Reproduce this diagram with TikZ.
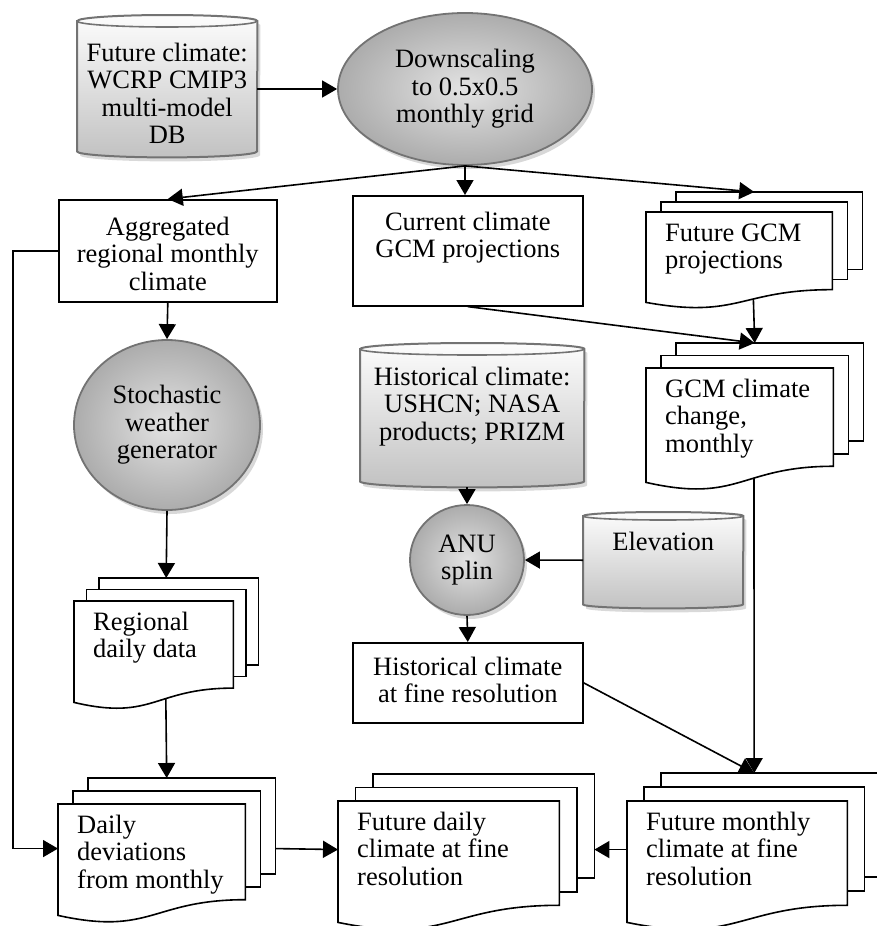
\documentclass[tikz,border=0pt]{standalone}
\usepackage{fontspec}
\setmainfont{Liberation Serif}
\usetikzlibrary{arrows.meta,calc,shapes.geometric,shadows,backgrounds}
\newcommand{\bigfont}{\fontsize{26.5}{27.5}\selectfont}
\newcommand{\ctext}[4]{\parbox[c][#2pt][t]{#1pt}{\centering\vspace*{#3pt}\strut#4}}
\newcommand{\ltext}[3]{\parbox[c][#2pt][t]{#1pt}{\raggedright\leftskip=19pt\vspace*{10pt}\strut#3}}
\newcommand{\candrum}[3]{%
\begin{pgfonlayer}{background}
\fill[gray!30] ([shift={(3,-4-#3)}]#1.north west) -- ([shift={(3,-4+#3)}]#1.south west) arc[start angle=180,end angle=360,x radius=#2,y radius=#3] -- ([shift={(3,-4-#3)}]#1.north east) arc[start angle=0,end angle=180,x radius=#2,y radius=#3] -- cycle;
\path[drum] ([yshift=-#3]#1.north west) -- ([yshift=#3]#1.south west) arc[start angle=180,end angle=360,x radius=#2,y radius=#3] -- ([yshift=-#3]#1.north east) arc[start angle=0,end angle=180,x radius=#2,y radius=#3] -- cycle;
\draw[rim] ([yshift=-#3]#1.north west) arc[start angle=180,end angle=360,x radius=#2,y radius=#3];
\end{pgfonlayer}}
\newcommand{\docstack}[3]{%
\coordinate (#1-r) at ($(#1.north east)!0.859!(#1.south east)$);
\coordinate (#1-t) at ([shift={(#2,2*#3)}]#1.north);
\coordinate (#1-w) at ($(#1.north west)!0.4!(#1.south west)$);
\coordinate (#1-e) at ($(#1-w -| #1.east)+(2*#2,0)$);
\begin{pgfonlayer}{background}
\draw[sheet] ([shift={(2*#2,2*#3)}]#1.north west) rectangle ([shift={(2*#2,2*#3)}]#1-r);
\draw[sheet] ([shift={(#2,#3)}]#1.north west) rectangle ([shift={(#2,#3)}]#1-r);
\draw[sheet] (#1.north west) -- (#1.north east) -- (#1-r) .. controls ($(#1.north)!0.859!(#1.south)$) and ($(#1.north)!1.186!(#1.south)$) .. (#1.south west) coordinate[pos=0.4] (#1-b) -- cycle;
\end{pgfonlayer}}
\begin{document}
\begin{tikzpicture}[x=1pt,y=1pt,
  box/.style={draw,line width=1.6pt,inner sep=0,font=\bigfont},
  blank/.style={inner sep=0,font=\bigfont},
  blob/.style={ellipse,inner sep=0,align=center,font=\bigfont,draw=black!55,line width=1.8pt,inner color=gray!22,outer color=gray!65,drop shadow={shadow xshift=3pt,shadow yshift=-4pt,fill=gray!60}},
  drum/.style={draw=black!55,line width=2pt,top color=gray!2,bottom color=gray!48},
  rim/.style={draw=black!55,line width=1.6pt},
  sheet/.style={draw,line width=1.6pt,fill=white},
  arr/.style={line width=1.6pt,-{Triangle[length=15pt,width=17pt]}}]
\useasboundingbox (0,0) rectangle (877,-926);
\node[blank,anchor=north west] (fut) at (77,-15) {\ctext{180}{142}{27}{Future climate:\\WCRP CMIP3\\multi-model\\DB}};
\node[blob,minimum width=254,minimum height=152] (down) at (465,-89) {Downscaling\\to 0.5x0.5\\monthly grid};
\node[box,anchor=north west] (agg) at (58,-199) {\ctext{218}{102}{16}{Aggregated\\regional monthly\\climate}};
\node[box,anchor=north west] (curr) at (352,-195) {\ctext{230}{110}{15}{Current climate\\GCM projections}};
\node[blank,anchor=north west] (fgcm) at (646,-212) {\ltext{186}{90}{Future GCM\\projections}};
\node[blank,anchor=north west] (gcmc) at (646,-368) {\ltext{187}{114}{GCM climate\\change,\\monthly}};
\node[blob,minimum width=186,minimum height=170] (stoch) at (167,-425) {Stochastic\\weather\\generator};
\node[blank,anchor=north west] (hist) at (360,-343) {\ctext{224}{144}{23}{Historical climate:\\USHCN; NASA\\products; PRIZM}};
\node[blob,minimum width=114,minimum height=110] (anu) at (467,-560) {ANU\\splin};
\node[blank,anchor=north west] (elev) at (583,-512) {\ctext{160}{96}{19}{Elevation}};
\node[box,anchor=north west] (hfine) at (352,-642) {\ctext{230}{80}{13}{Historical climate\\at fine resolution}};
\node[blank,anchor=north west] (reg) at (74,-601) {\ltext{159}{101}{Regional\\daily data}};
\node[blank,anchor=north west] (dev) at (58,-804) {\ltext{187}{111}{Daily\\deviations\\from monthly}};
\node[blank,anchor=north west] (fday) at (338,-801) {\ltext{221}{121}{Future daily\\climate at fine\\resolution}};
\node[blank,anchor=north west] (fmon) at (627,-801) {\ltext{220}{121}{Future monthly\\climate at fine\\resolution}};
\candrum{fut}{90}{6}
\candrum{hist}{112}{6}
\candrum{elev}{80}{4}
\docstack{fgcm}{15}{10}
\docstack{gcmc}{15}{12.5}
\docstack{reg}{12.5}{11.5}
\docstack{dev}{15}{13}
\docstack{fday}{17.5}{13.5}
\docstack{fmon}{17}{14}
\draw[arr] (fut.east |- down.west) -- (down.west);
\draw[arr] (down.south) -- (agg.north);
\draw[arr] (down.south) -- (down.south |- curr.north);
\draw[arr] (down.south) -- (fgcm-t);
\draw[arr] (curr.south) -- (gcmc-t);
\draw[arr] (fgcm-b) -- (gcmc-t);
\draw[arr] (agg.south) -- (stoch.north);
\draw[arr] (agg.west) -- ++(-45,0) |- (dev-w);
\draw[arr] (stoch.south) -- (reg-t);
\draw[arr] (reg-b) -- (dev-t);
\draw[arr] (anu.north |- hist.south) -- (anu.north);
\draw[arr] (elev.west) -- (anu.east);
\draw[arr] (anu.south) -- (hfine.north);
\draw[arr] (hfine.east) -- (fmon-t);
\draw[arr] (gcmc-b) -- (fmon-t);
\draw[arr] (dev-e) -- (fday-w);
\draw[arr] (fmon-w) -- (fday-e);
\end{tikzpicture}
\end{document}
